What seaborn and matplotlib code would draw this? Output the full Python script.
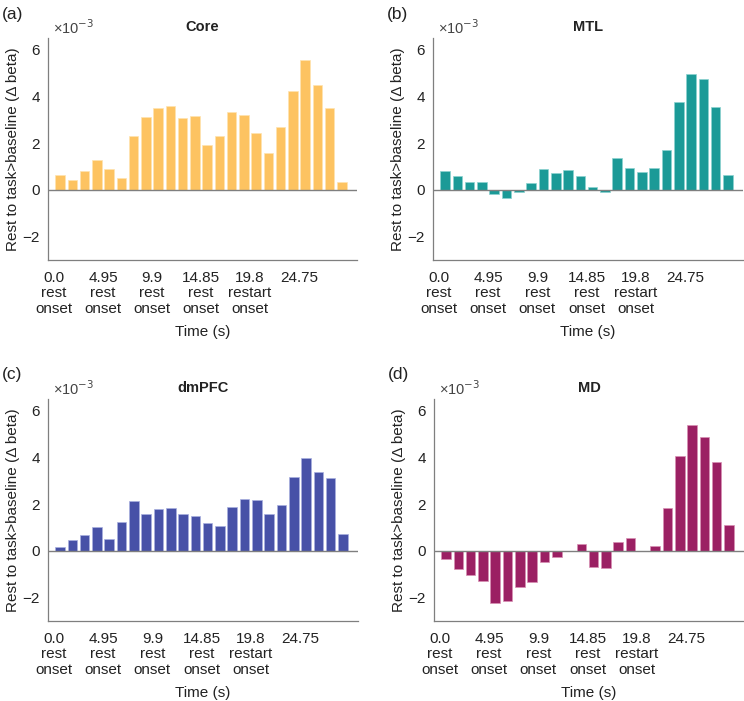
import numpy as np
import pandas as pd
import matplotlib
matplotlib.use("Agg")
import matplotlib.pyplot as plt
import seaborn as sns

sns.set_style("white")
plt.rcParams['font.family'] = ['Liberation Sans', 'DejaVu Sans']

# bar values in units of 1e-3 (delta beta), one bar per TR (1.2375 s)
core = [0.62, 0.43, 0.82, 1.28, 0.88, 0.52, 2.31, 3.11, 3.50, 3.57, 3.08, 3.15,
        1.91, 2.30, 3.32, 3.21, 2.43, 1.59, 2.70, 4.23, 5.57, 4.47, 3.52, 0.33]
mtl = [0.82, 0.58, 0.33, 0.35, -0.17, -0.34, -0.09, 0.28, 0.91, 0.72, 0.85, 0.61,
       0.14, -0.07, 1.35, 0.94, 0.75, 0.94, 1.72, 3.77, 4.98, 4.74, 3.55, 0.62]
dmpfc = [0.16, 0.47, 0.70, 1.04, 0.53, 1.25, 2.15, 1.58, 1.81, 1.85, 1.58, 1.51,
         1.20, 1.05, 1.88, 2.22, 2.17, 1.58, 1.98, 3.15, 3.99, 3.38, 3.13, 0.74]
md = [-0.33, -0.77, -1.05, -1.30, -2.25, -2.15, -1.55, -1.35, -0.47, -0.24, 0.01, 0.30,
      -0.68, -0.74, 0.36, 0.57, 0.01, 0.20, 1.82, 4.06, 5.37, 4.87, 3.82, 1.10]

tr = 1.2375
times = [(i + 0.5) * tr for i in range(24)]

tick_pos = [0.0, 4.95, 9.9, 14.85, 19.8, 24.75]
tick_labels = ["0.0\nrest\nonset", "4.95\nrest\nonset", "9.9\nrest\nonset",
               "14.85\nrest\nonset", "19.8\nrestart\nonset", "24.75"]

panels = ["(a)", "(b)", "(c)", "(d)"]
titles = ["Core", "MTL", "dmPFC", "MD"]
series = [core, mtl, dmpfc, md]
colors = ["#FDC361", "#1B9A97", "#4751A7", "#9B2063"]
edges = ["#FFE3B0", "#8CD3D0", "#A9B0E0", "#D88FB4"]

W, H = 744, 701
# axes boxes in pixels: left, right, top, bottom
boxes = [(48, 357, 38, 260), (433, 743, 38, 260),
         (48, 358, 399, 621), (434, 744, 399, 621)]

fig = plt.figure(figsize=(W / 100, H / 100), dpi=100)
gray = "#7f7f7f"
txt = "#222222"

for k in range(4):
    l, r, t, b = boxes[k]
    ax = fig.add_axes([l / W, 1 - b / H, (r - l) / W, (b - t) / H])
    df = pd.DataFrame({"time": times, "val": series[k]})
    sns.barplot(data=df, x="time", y="val", native_scale=True, color=colors[k],
                saturation=1, width=0.78, edgecolor=edges[k], linewidth=0.5, ax=ax)
    ax.axhline(0, color=gray, lw=1.0, zorder=3)
    ax.set_xlim(-0.6, 30.6)
    ax.set_ylim(-3, 6.5)
    ax.set_yticks([-2, 0, 2, 4, 6])
    ax.set_yticklabels(["\u22122", "0", "2", "4", "6"])
    ax.set_xticks(tick_pos)
    ax.set_xticklabels(tick_labels, linespacing=1.12)
    ax.tick_params(direction="in", length=4, width=0.8, color=gray,
                   labelsize=11, labelcolor=txt)
    ax.tick_params(axis="x", pad=8)
    ax.tick_params(axis="y", pad=6)
    for s in ["top", "right"]:
        ax.spines[s].set_visible(False)
    for s in ["left", "bottom"]:
        ax.spines[s].set_color(gray)
        ax.spines[s].set_linewidth(0.9)
    ax.set_xlabel("Time (s)", fontsize=11, color=txt, labelpad=7)
    ax.set_ylabel("Rest to task>baseline (\u0394 beta)", fontsize=11, color=txt, labelpad=2)
    ax.set_title(titles[k], fontsize=10.5, fontweight="bold", color=txt, pad=5)
    ax.text(0.015, 1.02, "\u00d710$^{-3}$", transform=ax.transAxes, fontsize=10.5,
            color="#444444", ha="left", va="baseline")
    fig.text((l - 46) / W, 1 - (t - 24) / H, panels[k], fontsize=12.5, color=txt,
             ha="left", va="center")

fig.savefig("out.png", dpi=100)
